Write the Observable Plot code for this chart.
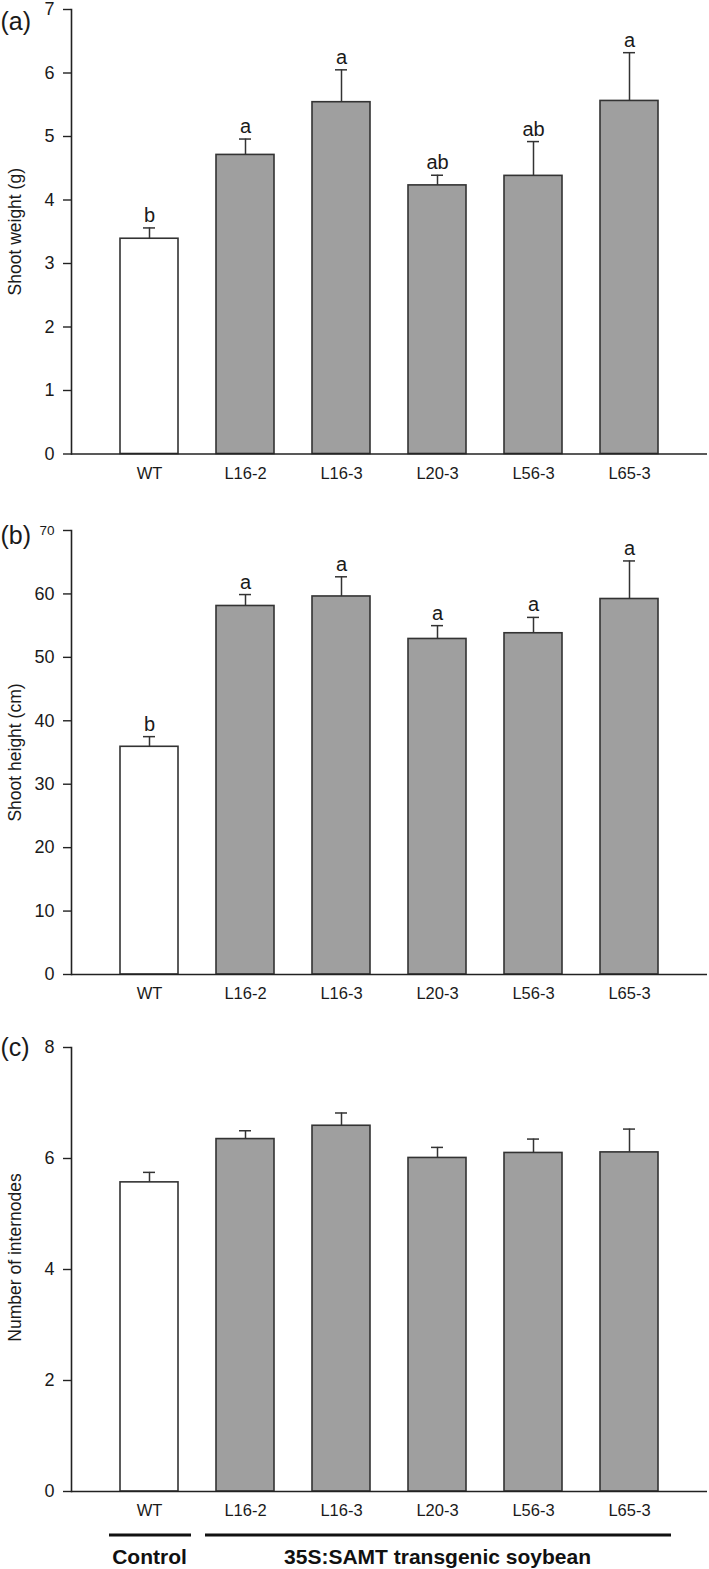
<!DOCTYPE html>
<html>
<head>
<meta charset="utf-8">
<script src="https://cdn.jsdelivr.net/npm/d3@7"></script>
<script src="https://cdn.jsdelivr.net/npm/@observablehq/plot@0.6"></script>
<style>
  html, body { margin: 0; padding: 0; background: white; }
  #wrap { position: relative; width: 709px; height: 1569px; background: white; }
  .pan { position: absolute; left: 0; }
</style>
</head>
<body>
<div id="wrap">
  <div class="pan" id="pa" style="top:0px"></div>
  <div class="pan" id="pb" style="top:494px"></div>
  <div class="pan" id="pc" style="top:1014px"></div>
</div>
<script>
// ---- data ----
const lines = ["WT", "L16-2", "L16-3", "L20-3", "L56-3", "L65-3"];

const weightMean = [3.39, 4.71, 5.54, 4.23, 4.38, 5.56];
const weightErr = [0.17, 0.25, 0.51, 0.16, 0.54, 0.76];
const weightLetters = ["b", "a", "a", "ab", "ab", "a"];
const weightTicks = [0, 1, 2, 3, 4, 5, 6, 7];

const heightMean = [35.9, 58.1, 59.6, 52.9, 53.8, 59.2];
const heightErr = [1.6, 1.8, 3.1, 2.1, 2.5, 6.0];
const heightLetters = ["b", "a", "a", "a", "a", "a"];
const heightTicks = [0, 10, 20, 30, 40, 50, 60];
const heightTopTick = [70];

const internodeMean = [5.57, 6.35, 6.59, 6.01, 6.10, 6.11];
const internodeErr = [0.18, 0.15, 0.23, 0.19, 0.25, 0.42];
const internodeTicks = [0, 2, 4, 6, 8];

const groups = [
  {name: "Control", first: "WT", last: "WT", center: "WT"},
  {name: "35S:SAMT transgenic soybean", first: "L16-2", last: "L65-3", center: "L20-3"}
];

const FONT = "'Liberation Sans', Arial, Helvetica, sans-serif";
const INK = "#222";
const fmt = d => String(d);

function panel(o) {
  const data = lines.map((name, i) => ({
    name,
    mean: o.means[i],
    top: o.means[i] + o.errs[i],
    letter: o.letters ? o.letters[i] : ""
  }));
  const marks = [
    Plot.barY(data, {x: "name", y: "mean", fill: d => d.name === "WT" ? "white" : "#9f9f9f", stroke: "#333", strokeWidth: 1.6}),
    Plot.ruleX(data, {x: "name", y1: "mean", y2: "top", stroke: "#333", strokeWidth: 1.5}),
    Plot.tickY(data, {x: "name", y: "top", insetLeft: 23, insetRight: 23, stroke: "#333", strokeWidth: 1.5}),
    Plot.ruleY([0], {stroke: INK, strokeWidth: 1.6}),
    Plot.frame({anchor: "left", stroke: INK, strokeWidth: 1.6}),
    Plot.axisY({ticks: o.ticks, tickFormat: fmt, tickSize: 8, tickPadding: 9, fontSize: o.tickFont || 18, fontFamily: o.tickFamily || FONT, label: null, stroke: INK, strokeWidth: 1.4, fill: "#1a1a1a"}),
    Plot.axisX({tickSize: 0, tickPadding: 13, fontSize: 16.5, label: null, fill: "#1a1a1a"}),
    Plot.text([o.label], {frameAnchor: "left", text: d => d, rotate: -90, dx: -56, dy: o.labelDy || 0, fontSize: 17.5, textAnchor: "middle", lineAnchor: "middle", fill: "#1a1a1a"}),
    Plot.text([o.tag], {frameAnchor: "top-left", text: d => d, dx: -71, dy: o.tagDy, fontSize: 25, textAnchor: "start", lineAnchor: "middle", fill: "#1a1a1a"})
  ];
  if (o.letters) {
    marks.push(Plot.text(data, {x: "name", y: "top", text: "letter", dy: -6, lineAnchor: "bottom", fontSize: 20, fill: "#1a1a1a"}));
  }
  if (o.extraTicks) {
    marks.push(Plot.axisY({ticks: o.extraTicks, tickFormat: fmt, tickSize: 8, tickPadding: 9, fontSize: 13.5, label: null, stroke: INK, strokeWidth: 1.4, fill: "#1a1a1a"}));
  }
  if (o.groups) {
    marks.push(Plot.text(o.groups, {x: "center", text: "name", frameAnchor: "bottom", dy: 66, fontSize: 21, fontWeight: "bold", lineAnchor: "middle", fill: "#111"}));
  }
  const chart = Plot.plot({
    width: 709,
    height: o.height,
    marginLeft: 71,
    marginRight: 2,
    marginTop: o.marginTop,
    marginBottom: o.marginBottom,
    x: {type: "band", domain: lines, paddingInner: 0.4, paddingOuter: 0.5, label: null},
    y: {domain: o.domain, label: null},
    color: {type: "identity"},
    style: {fontFamily: FONT, fontSize: "16px", background: "white", color: "#1a1a1a", overflow: "visible"},
    marks
  });
  if (o.groups) {
    const xs = chart.scale("x");
    const bw = xs.bandwidth;
    const y0 = o.height - o.marginBottom + 44;
    const svg = d3.select(chart.tagName.toLowerCase() === "svg" ? chart : chart.querySelector("svg"));
    for (const g of o.groups) {
      const x1 = xs.apply(g.first) - 11;
      const x2 = xs.apply(g.last) + bw + 13;
      svg.append("line").attr("x1", x1).attr("x2", x2).attr("y1", y0).attr("y2", y0)
        .attr("stroke", "#111").attr("stroke-width", 2.8);
    }
  }
  return chart;
}

document.getElementById("pa").append(panel({
  means: weightMean, errs: weightErr, letters: weightLetters, ticks: weightTicks,
  domain: [0, 7], label: "Shoot weight (g)", tag: "(a)", tagDy: 12.5,
  height: 494, marginTop: 9, marginBottom: 40.5
}));

document.getElementById("pb").append(panel({
  means: heightMean, errs: heightErr, letters: heightLetters, ticks: heightTicks, extraTicks: heightTopTick,
  domain: [0, 70], label: "Shoot height (cm)", tag: "(b)", tagDy: 5,
  height: 520, marginTop: 36, marginBottom: 40
}));

document.getElementById("pc").append(panel({
  means: internodeMean, errs: internodeErr, letters: null, ticks: internodeTicks,
  tickFamily: "'Liberation Sans Narrow', " + FONT,
  domain: [0, 8], label: "Number of internodes", labelDy: -12, tag: "(c)", tagDy: 0.5,
  height: 555, marginTop: 33, marginBottom: 78, groups
}));
</script>
</body>
</html>
